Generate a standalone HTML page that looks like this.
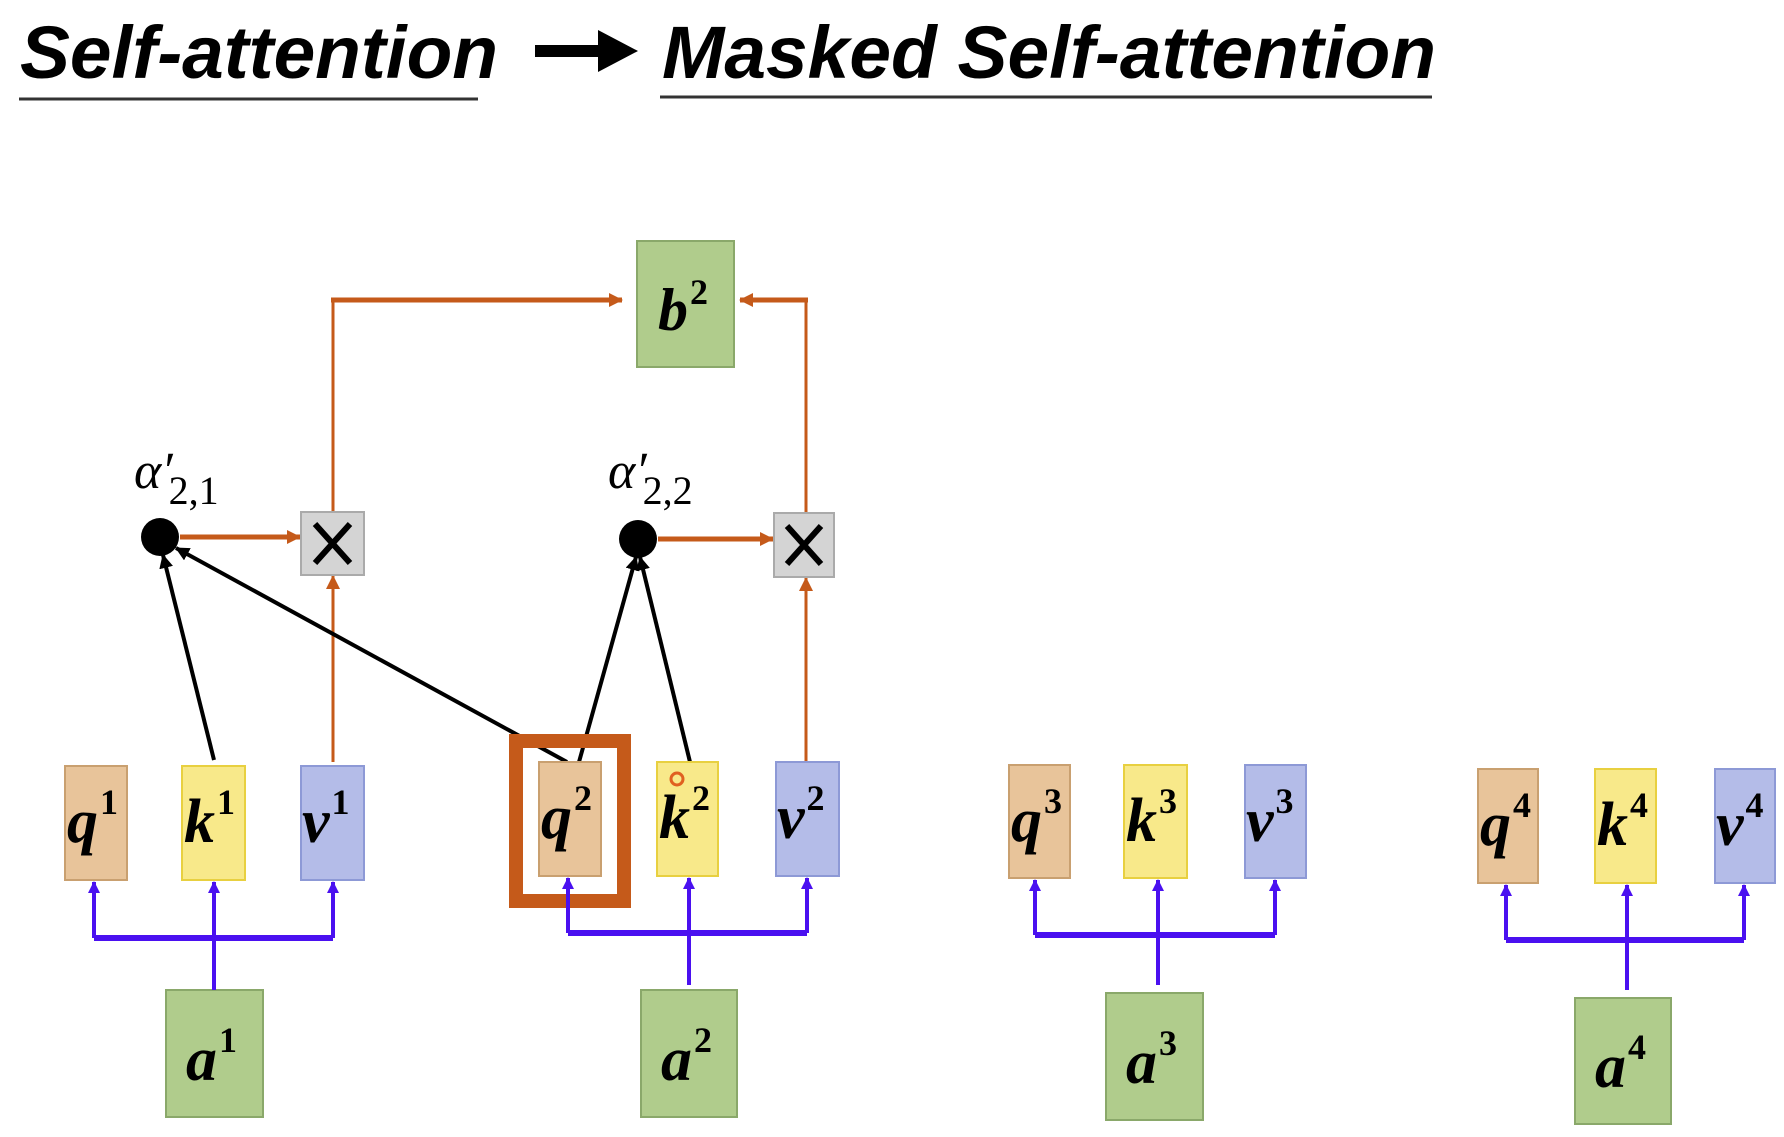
<!DOCTYPE html>
<html><head><meta charset="utf-8"><style>
body{margin:0;background:#fff;}
svg text{font-family:"Liberation Serif",serif;}
.s{font-style:normal;font-weight:bold;}
</style></head><body>
<svg width="1784" height="1132" viewBox="0 0 1784 1132" xmlns="http://www.w3.org/2000/svg">
<defs>
<marker id="ao" markerWidth="14" markerHeight="14" refX="13" refY="7" orient="auto" markerUnits="userSpaceOnUse"><path d="M0,0 L14,7 L0,14 z" fill="#c55a1a"/></marker>
<marker id="au" markerWidth="12" markerHeight="14" refX="11" refY="6" orient="auto" markerUnits="userSpaceOnUse"><path d="M0,0 L12,6 L0,12 z" fill="#4a10f0"/></marker>
<marker id="ak" markerWidth="14" markerHeight="14" refX="13" refY="7" orient="auto" markerUnits="userSpaceOnUse"><path d="M0,0 L14,7 L0,14 z" fill="#000"/></marker>
</defs>
<g font-weight="bold" font-style="italic">
<text x="20" y="78" font-size="74" textLength="478" lengthAdjust="spacingAndGlyphs" style="font-family:'Liberation Sans',sans-serif">Self-attention</text>
<text x="662" y="78" font-size="74" textLength="774" lengthAdjust="spacingAndGlyphs" style="font-family:'Liberation Sans',sans-serif">Masked Self-attention</text>
</g>
<line x1="19" y1="99" x2="478" y2="99" stroke="#333" stroke-width="3"/>
<line x1="660" y1="97" x2="1432" y2="97" stroke="#333" stroke-width="3"/>
<line x1="535" y1="51" x2="600" y2="51" stroke="#000" stroke-width="12"/>
<path d="M598,30 L638,51 L598,72 z" fill="#000"/>

<rect x="637" y="241" width="97" height="126" fill="#b0cc8c" stroke="#8aa86a" stroke-width="2"/>
<text x="658" y="330" font-size="60" font-weight="bold" font-style="italic">b<tspan class="s" font-size="36" dy="-26" dx="2">2</tspan></text>

<g stroke="#c55a1a" fill="none">
<path d="M333,512 L333,300" stroke-width="3"/>
<line x1="331" y1="300" x2="622" y2="300" stroke-width="5" marker-end="url(#ao)"/>
<path d="M806,512 L806,300" stroke-width="3"/>
<line x1="808" y1="300" x2="740" y2="300" stroke-width="5" marker-end="url(#ao)"/>
<line x1="180" y1="537" x2="300" y2="537" stroke-width="5" marker-end="url(#ao)"/>
<line x1="658" y1="539" x2="773" y2="539" stroke-width="5" marker-end="url(#ao)"/>
<line x1="333" y1="762" x2="333" y2="576" stroke-width="3" marker-end="url(#ao)"/>
<line x1="806" y1="762" x2="806" y2="578" stroke-width="3" marker-end="url(#ao)"/>
</g>

<rect x="301" y="512" width="63" height="63" fill="#d4d4d4" stroke="#aaa" stroke-width="2"/>
<path d="M315,524 L350,563 M350,524 L315,563" stroke="#000" stroke-width="6"/>
<rect x="774" y="513" width="60" height="64" fill="#d4d4d4" stroke="#aaa" stroke-width="2"/>
<path d="M787,526 L821,564 M821,526 L787,564" stroke="#000" stroke-width="6"/>

<circle cx="160" cy="537" r="19" fill="#000"/>
<circle cx="638" cy="539" r="19" fill="#000"/>
<text x="134" y="488" font-size="52" font-style="italic">α′<tspan font-size="40" font-style="normal" dy="16" dx="-4">2,1</tspan></text>
<text x="608" y="488" font-size="52" font-style="italic">α′<tspan font-size="40" font-style="normal" dy="16" dx="-4">2,2</tspan></text>

<g stroke="#000" stroke-width="4" fill="none">
<line x1="214" y1="760" x2="163" y2="555" marker-end="url(#ak)"/>
<line x1="567" y1="762" x2="176" y2="548" marker-end="url(#ak)"/>
<line x1="579" y1="762" x2="636" y2="557" marker-end="url(#ak)"/>
<line x1="690" y1="762" x2="640" y2="557" marker-end="url(#ak)"/>
</g>

<g stroke-width="2">
<rect x="65" y="766" width="62" height="114" fill="#e8c49a" stroke="#c9a070"/>
<rect x="182" y="766" width="63" height="114" fill="#f8e98a" stroke="#e8d040"/>
<rect x="301" y="766" width="63" height="114" fill="#b4bce8" stroke="#8d99d6"/>
<rect x="539" y="762" width="62" height="114" fill="#e8c49a" stroke="#c9a070"/>
<rect x="657" y="762" width="61" height="114" fill="#f8e98a" stroke="#e8d040"/>
<rect x="776" y="762" width="63" height="114" fill="#b4bce8" stroke="#8d99d6"/>
<rect x="1009" y="765" width="61" height="113" fill="#e8c49a" stroke="#c9a070"/>
<rect x="1124" y="765" width="63" height="113" fill="#f8e98a" stroke="#e8d040"/>
<rect x="1245" y="765" width="61" height="113" fill="#b4bce8" stroke="#8d99d6"/>
<rect x="1478" y="769" width="60" height="114" fill="#e8c49a" stroke="#c9a070"/>
<rect x="1595" y="769" width="61" height="114" fill="#f8e98a" stroke="#e8d040"/>
<rect x="1715" y="769" width="60" height="114" fill="#b4bce8" stroke="#8d99d6"/>
</g>
<g font-size="62" font-weight="bold" font-style="italic" fill="#000">
<text x="67" y="842">q<tspan class="s" font-size="36" dy="-28" dx="2">1</tspan></text>
<text x="184" y="842">k<tspan class="s" font-size="36" dy="-28" dx="2">1</tspan></text>
<text x="302" y="842">v<tspan class="s" font-size="36" dy="-28" dx="2">1</tspan></text>
<text x="541" y="838">q<tspan class="s" font-size="36" dy="-28" dx="2">2</tspan></text>
<text x="659" y="838">k<tspan class="s" font-size="36" dy="-28" dx="2">2</tspan></text>
<text x="777" y="838">v<tspan class="s" font-size="36" dy="-28" dx="2">2</tspan></text>
<text x="1011" y="841">q<tspan class="s" font-size="36" dy="-28" dx="2">3</tspan></text>
<text x="1126" y="841">k<tspan class="s" font-size="36" dy="-28" dx="2">3</tspan></text>
<text x="1246" y="841">v<tspan class="s" font-size="36" dy="-28" dx="2">3</tspan></text>
<text x="1480" y="845">q<tspan class="s" font-size="36" dy="-28" dx="2">4</tspan></text>
<text x="1597" y="845">k<tspan class="s" font-size="36" dy="-28" dx="2">4</tspan></text>
<text x="1716" y="845">v<tspan class="s" font-size="36" dy="-28" dx="2">4</tspan></text>
</g>
<circle cx="677" cy="779" r="6" fill="none" stroke="#e06020" stroke-width="3"/>

<rect x="516" y="741" width="108" height="160" fill="none" stroke="#c55a1a" stroke-width="14"/>

<g stroke="#8aa86a" stroke-width="2" fill="#b0cc8c">
<rect x="166" y="990" width="97" height="127"/>
<rect x="641" y="990" width="96" height="127"/>
<rect x="1106" y="993" width="97" height="127"/>
<rect x="1575" y="998" width="96" height="126"/>
</g>
<g font-size="62" font-weight="bold" font-style="italic">
<text x="186" y="1080">a<tspan class="s" font-size="36" dy="-28" dx="2">1</tspan></text>
<text x="661" y="1080">a<tspan class="s" font-size="36" dy="-28" dx="2">2</tspan></text>
<text x="1126" y="1083">a<tspan class="s" font-size="36" dy="-28" dx="2">3</tspan></text>
<text x="1595" y="1087">a<tspan class="s" font-size="36" dy="-28" dx="2">4</tspan></text>
</g>

<g stroke="#4a10f0" stroke-width="4" fill="none">
<path d="M214,990 L214,882" marker-end="url(#au)"/>
<path d="M94,938 L333,938" stroke-width="6"/>
<path d="M94,938 L94,882" marker-end="url(#au)"/>
<path d="M333,938 L333,882" marker-end="url(#au)"/>
<path d="M689,985 L689,878" marker-end="url(#au)"/>
<path d="M568,933 L807,933" stroke-width="6"/>
<path d="M568,933 L568,878" marker-end="url(#au)"/>
<path d="M807,933 L807,878" marker-end="url(#au)"/>
<path d="M1158,985 L1158,880" marker-end="url(#au)"/>
<path d="M1035,935 L1275,935" stroke-width="6"/>
<path d="M1035,935 L1035,880" marker-end="url(#au)"/>
<path d="M1275,935 L1275,880" marker-end="url(#au)"/>
<path d="M1627,990 L1627,885" marker-end="url(#au)"/>
<path d="M1506,940 L1744,940" stroke-width="6"/>
<path d="M1506,940 L1506,885" marker-end="url(#au)"/>
<path d="M1744,940 L1744,885" marker-end="url(#au)"/>
</g>
</svg>
</body></html>
